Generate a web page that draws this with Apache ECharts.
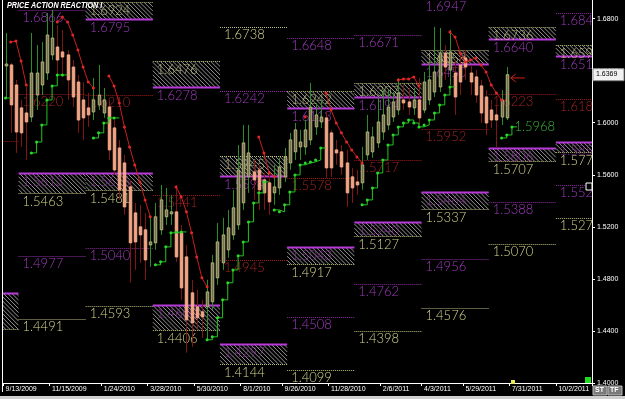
<!DOCTYPE html>
<html><head><meta charset="utf-8">
<script src="https://cdn.jsdelivr.net/npm/echarts@6/dist/echarts.min.js"></script>
<style>html,body{margin:0;padding:0;background:#000;}#c{width:625px;height:399px;}</style>
</head><body><div id="c"></div>
<script>
// ---------------- DATA ----------------
const startDate = [2009, 9, 13];
const weekCount = 114;
const tickLabels = ['9/13/2009','11/15/2009','1/24/2010','3/28/2010','5/30/2010','8/1/2010','9/26/2010','11/28/2010','2/6/2011','4/3/2011','5/29/2011','7/31/2011','10/2/2011'];
const yTicks = [1.40, 1.44, 1.48, 1.52, 1.56, 1.60, 1.64, 1.68];

const openP  = [1.6436,1.6444,1.6290,1.6114,1.6075,1.6044,1.6213,1.6290,1.6382,1.6521,1.6582,1.6544,1.6521,1.6428,1.6313,1.6175,1.6114,1.6083,1.6137,1.6075,
                1.6121,1.5960,1.5806,1.5691,1.5507,1.5307,1.5200,1.5177,1.5061,1.5077,1.5177,1.5277,1.5300,1.5315,1.5154,1.4969,1.4693,1.4585,1.4547,1.4585,
                1.4624,1.4808,1.4923,1.5023,1.5138,1.5215,1.5384,1.5584,1.5622,1.5637,1.5561,1.5538,1.5461,1.5499,1.5584,1.5691,1.5776,1.5814,1.5814,1.5868,
                1.5968,1.6006,1.6037,1.5922,1.5791,1.5776,1.5691,1.5584,1.5545,1.5538,1.5753,1.5776,1.5845,1.5929,1.5983,1.6044,1.6098,1.6175,1.6160,1.6114,
                1.6175,1.6098,1.6175,1.6236,1.6275,1.6536,1.6405,1.6382,1.6444,1.6498,1.6382,1.6352,1.6283,1.6198,1.6098,1.6060,1.6044,1.6037];
const closeP = [1.6451,1.6137,1.5929,1.5922,1.6006,1.6382,1.6382,1.6467,1.6674,1.6651,1.6482,1.6505,1.6329,1.6198,1.6021,1.6037,1.6060,1.6175,1.6213,1.6175,
                1.5791,1.5637,1.5484,1.5353,1.5077,1.5084,1.5138,1.4946,1.5084,1.5277,1.5407,1.5330,1.5315,1.4969,1.4731,1.4485,1.4462,1.4501,1.4508,1.4700,
                1.4923,1.5084,1.5138,1.5192,1.5346,1.5637,1.5845,1.5768,1.5561,1.5484,1.5461,1.5392,1.5507,1.5660,1.5737,1.5868,1.5945,1.5852,1.5945,1.6121,
                1.6060,1.6044,1.5653,1.5653,1.5768,1.5660,1.5461,1.5499,1.5522,1.5676,1.5929,1.5891,1.6006,1.6060,1.6121,1.6160,1.6229,1.6152,1.6121,1.6175,
                1.6037,1.6313,1.6329,1.6390,1.6536,1.6428,1.6544,1.6198,1.6313,1.6428,1.6313,1.6213,1.6075,1.5998,1.6021,1.6021,1.6175,1.6369];
const lowP   = [1.6198,1.5922,1.5768,1.5814,1.5714,1.6006,1.6098,1.6213,1.6329,1.6482,1.6367,1.6352,1.6175,1.6121,1.5922,1.5868,1.5968,1.6021,1.6098,1.6037,
                1.5714,1.5599,1.5407,1.5292,1.4770,1.4869,1.4923,1.4793,1.4892,1.5023,1.5138,1.5215,1.5215,1.4931,1.4639,1.4232,1.4278,1.4409,1.4347,1.4332,
                1.4562,1.4754,1.4869,1.4962,1.5100,1.5177,1.5330,1.5461,1.5407,1.5330,1.5330,1.5292,1.5369,1.5445,1.5545,1.5637,1.5714,1.5714,1.5753,1.5829,
                1.5906,1.5960,1.5576,1.5584,1.5676,1.5599,1.5353,1.5384,1.5445,1.5484,1.5714,1.5730,1.5806,1.5868,1.5945,1.6006,1.6060,1.6098,1.6060,1.6060,
                1.5983,1.6075,1.6137,1.6198,1.6236,1.6329,1.6290,1.6060,1.6213,1.6329,1.6213,1.6152,1.5998,1.5906,1.5960,1.5806,1.5983,1.6021];
const highP  = [1.6690,1.6459,1.6329,1.6175,1.6275,1.6690,1.6597,1.6620,1.6843,1.6866,1.6751,1.6713,1.6559,1.6482,1.6367,1.6313,1.6229,1.6344,1.6444,1.6267,
                1.6175,1.6021,1.5868,1.5753,1.5561,1.5384,1.5369,1.5307,1.5277,1.5384,1.5522,1.5499,1.5445,1.5522,1.5215,1.5061,1.4793,1.4716,1.4639,1.4793,
                1.4985,1.5231,1.5269,1.5330,1.5484,1.5829,1.5983,1.5983,1.5714,1.5676,1.5614,1.5599,1.5676,1.5730,1.5806,1.5922,1.5998,1.5945,1.6021,1.6306,
                1.6152,1.6175,1.6083,1.5945,1.5868,1.5829,1.5791,1.5653,1.5637,1.5814,1.6060,1.5968,1.6198,1.6252,1.6252,1.6236,1.6344,1.6290,1.6267,1.6267,
                1.6344,1.6390,1.6482,1.6736,1.6728,1.6597,1.6713,1.6482,1.6521,1.6559,1.6444,1.6405,1.6329,1.6252,1.6175,1.6137,1.6252,1.6428];

// stop (red) and trailing (green) segments: start week + values
const redStart  = [1, 10, 20, 33, 49, 58, 62, 76, 86, 89];
const redValues = [
  [1.6620,1.6628,1.6474,1.6290],
  [1.6774,1.6812,1.6774,1.6674,1.6559,1.6428,1.6313,1.6267],
  [1.6359,1.6283,1.6152,1.5968,1.5814,1.5676,1.5545,1.5407,1.5277],
  [1.5507,1.5430,1.5315,1.5154,1.4969,1.4808,1.4739],
  [1.5891,1.5768,1.5614,1.5584],
  [1.6044],
  [1.6229,1.6098,1.5998,1.5922,1.5852,1.5791,1.5737,1.5691],
  [1.6329,1.6336,1.6336,1.6352,1.6282],
  [1.6697,1.6659,1.6536],
  [1.6467,1.6482,1.6498,1.6444,1.6390,1.6290,1.6229,1.6175]
];
const greenStart  = [0, 5, 17, 29, 39, 52, 69, 96];
const greenValues = [
  [1.6190],
  [1.5768,1.5852,1.5983,1.6175,1.6283,1.6367,1.6367],
  [1.5883,1.5922,1.5998,1.6037,1.6037],
  [1.4908,1.4931,1.5046,1.5154,1.5161,1.5161],
  [1.4332,1.4355,1.4501,1.4639,1.4770,1.4869,1.4977,1.5084,1.5238,1.5384,1.5461,1.5545],
  [1.5330,1.5315,1.5369,1.5468,1.5599,1.5676,1.5691,1.5699,1.5714,1.5806],
  [1.5369,1.5407,1.5499,1.5614,1.5714,1.5829,1.5906,1.5968,1.5998,1.6021,1.5998,1.5968,1.5983,1.6021,1.6075,1.6137,1.6213,1.6275],
  [1.5883,1.5906,1.5968]
];

// quarterly levels (quarter index; a quarter = 13 weeks starting at week 3)
const lineQuarter = [-1, 0,0,0,0, 1,1,1, 2, 3,3,3, 4,4,4,4, 5,5,5,5, 6,6,6,6, 7,7,7, 8,8,8,8];
const lineValue   = [1.5860, 1.6866,1.6220,1.4977,1.4491, 1.6210,1.5040,1.4593, 1.5441, 1.6738,1.6242,1.4945,
                     1.6648,1.5578,1.4508,1.4099, 1.6671,1.5717,1.4762,1.4398, 1.6947,1.5952,1.4956,1.4576,
                     1.6223,1.5388,1.5070, 1.6840,1.6180,1.5525,1.5270];
const lineKind    = ['P', 'R','P','R','S', 'P','R','S', 'P', 'S','R','P', 'R','P','R','S', 'R','P','R','S', 'R','P','R','S', 'P','R','S', 'R','P','R','S'];

const zoneQuarter = [-1, 0, 1, 1, 2, 2, 3, 3, 4, 4, 5, 5, 6, 6, 7, 7, 8, 8];
const zoneKind    = ['S','S','R','S','R','S','R','S','R','S','R','S','R','S','R','S','R','S'];
const zoneEdge    = [1.4416,1.5463,1.6795,1.5481,1.6278,1.4406,1.5594,1.4144,1.6113,1.4917,1.6194,1.5127,1.6450,1.5337,1.6640,1.5707,1.6515,1.5776];
const zoneFar     = [1.4693,1.5613,1.6924,1.5616,1.6476,1.4600,1.5745,1.4297,1.6242,1.5043,1.6307,1.5240,1.6558,1.5464,1.6736,1.5806,1.6597,1.5852];

const lastClose = 1.6369;
const arrowWeek = 97, arrowValue = 1.6344;
const titleText = 'PRICE ACTION REACTION I';

// ---------------- BUILD ----------------
const QSTART = 3, QLEN = 13;
const cats = [];
const d0 = Date.UTC(startDate[0], startDate[1]-1, startDate[2]);
for (let i = 0; i < weekCount; i++) {
  const d = new Date(d0 + i*7*86400000);
  cats.push((d.getUTCMonth()+1) + '/' + d.getUTCDate() + '/' + d.getUTCFullYear());
}
const labelSet = new Set(tickLabels);
function segArray(starts, vals){
  const a = new Array(weekCount).fill(null);
  starts.forEach((s,k)=>vals[k].forEach((v,j)=>{ a[s+j] = v; }));
  return a;
}
const LFAMILY = 'Lato,"DejaVu Sans Condensed","DejaVu Sans",sans-serif';
const LFONT = '300 13px ' + LFAMILY;
const redData = segArray(redStart, redValues);
const greenData = segArray(greenStart, greenValues);
const gLast = greenStart[greenStart.length-1] + greenValues[greenValues.length-1].length - 1;
greenData[gLast] = {value: greenData[gLast], label:{show:true, position:'right', distance:1,
  formatter: p => p.value.toFixed(4), color:'#3cb43c', fontSize:13, fontWeight:300, fontFamily:LFAMILY}};

const candleData = openP.map((o,i)=>[i, o, closeP[i], lowP[i], highP[i]]);
const lineData = lineQuarter.map((q,k)=>[0, lineValue[k]]);
const zoneData = zoneQuarter.map((q,k)=>[0, zoneEdge[k], zoneFar[k]]);

const COL = {
  purple:'#a23cbe', purpleLine:'#8e2ea2', purpleSolid:'#b83ad8',
  yellow:'#d4d48c', yellowLine:'#bcbc7c',
  red:'#a42424', redLine:'#a01c1c', hatch:'#959595'
};
const kindText = {R:COL.purple, S:COL.yellow, P:COL.red};
const kindLine = {R:COL.purpleLine, S:COL.yellowLine, P:COL.redLine};

function qx(api, q, v){
  const bw = api.size([1,0])[0];
  const x0w = api.coord([0, v])[0] - bw/2;
  return [x0w + (QSTART + q*QLEN)*bw, x0w + (QSTART + (q+1)*QLEN)*bw];
}

function renderLine(params, api){
  const k = params.dataIndex;
  const v = api.value(1);
  const xs = qx(api, lineQuarter[k], v);
  const y = Math.round(api.coord([0, v])[1]) + 0.5;
  const kind = lineKind[k];
  return {type:'group', children:[
    {type:'line', shape:{x1:xs[0], y1:y, x2:xs[1], y2:y}, style:{stroke:kindLine[kind], lineWidth:1, lineDash:[1,1]}},
    {type:'text', style:{text:v.toFixed(4), x:xs[0]+4, y:y+1, fill:kindText[kind], font:LFONT, align:'left', verticalAlign:'top'}}
  ]};
}

function renderZone(params, api){
  const k = params.dataIndex;
  const edge = api.value(1), far = api.value(2);
  const xs = qx(api, zoneQuarter[k], edge);
  const yE = Math.round(api.coord([0, edge])[1]) + 0.5;
  const yF = Math.round(api.coord([0, far])[1]) + 0.5;
  const top = Math.min(yE, yF), bot = Math.max(yE, yF);
  const w = xs[1]-xs[0], h = bot-top;
  const ch = [];
  const step = 4.2;
  for (let c = -h; c < w; c += step) {
    const t0 = Math.max(0, -c), t1 = Math.min(h, w - c);
    if (t1 > t0) ch.push({type:'line', shape:{x1:xs[0]+c+t0, y1:top+t0, x2:xs[0]+c+t1, y2:top+t1}, style:{stroke:COL.hatch, lineWidth:1}});
  }
  const isR = zoneKind[k] === 'R';
  const ySolid = isR ? bot : top, yDot = isR ? top : bot;
  ch.push({type:'line', shape:{x1:xs[0], y1:yDot, x2:xs[1], y2:yDot}, style:{stroke:COL.yellowLine, lineWidth:1, lineDash:[1,1]}});
  ch.push({type:'line', shape:{x1:xs[0], y1:ySolid, x2:xs[1], y2:ySolid}, style:{stroke:COL.purpleSolid, lineWidth:2}});
  ch.push({type:'text', style:{text:far.toFixed(4), x:xs[0]+4, y:top+1.5, fill: isR ? 'rgba(212,212,140,0.8)' : 'rgba(150,50,170,0.85)', font:LFONT, align:'left', verticalAlign:'top'}});
  ch.push({type:'text', style:{text:edge.toFixed(4), x:xs[0]+4, y:bot+1.5, fill: isR ? COL.purple : COL.yellow, font:LFONT, align:'left', verticalAlign:'top'}});
  return {type:'group', children:ch};
}

function renderCandle(params, api){
  const i = api.value(0), o = api.value(1), c = api.value(2), l = api.value(3), h = api.value(4);
  const po = api.coord([i,o]), pc = api.coord([i,c]), pl = api.coord([i,l]), ph = api.coord([i,h]);
  const x = Math.round(po[0]) + 0.5;
  const up = c >= o;
  const top = Math.min(po[1], pc[1]), bot = Math.max(po[1], pc[1]);
  return {type:'group', children:[
    {type:'line', shape:{x1:x, y1:ph[1], x2:x, y2:pl[1]}, style:{stroke: up ? '#2e8c28' : '#7e1616', lineWidth:1}},
    {type:'rect', shape:{x:x-1.25, y:top, width:2.5, height:Math.max(1.5, bot-top)},
     style:{fill: up ? '#72724c' : '#f4a282', stroke: up ? '#b2b27e' : '#f6ac8c', lineWidth:1}}
  ]};
}

const chart = echarts.init(document.getElementById('c'), null, {renderer:'canvas', width:625, height:399});
const option = {
  backgroundColor:'#000',
  animation:false,
  grid:{left:3, right:33, top:0, bottom:16, outerBoundsMode:'none', containLabel:false},
  xAxis:{
    type:'category', data:cats, boundaryGap:true,
    axisLine:{show:true, lineStyle:{color:'#ffffff', width:1}},
    axisTick:{show:true, length:3, interval:(i,v)=>labelSet.has(v), lineStyle:{color:'#ffffff'}},
    axisLabel:{interval:(i,v)=>labelSet.has(v), color:'#ffffff', fontSize:7, fontFamily:'"Liberation Sans",Arial,sans-serif', align:'left', margin:3},
    splitLine:{show:false}
  },
  yAxis:{
    type:'value', position:'right', min:yTicks[0], max:1.6943, interval:0.04,
    axisLine:{show:true, lineStyle:{color:'#ffffff'}},
    axisTick:{show:true, length:3, lineStyle:{color:'#ffffff'}},
    axisLabel:{color:'#ffffff', fontSize:7, fontFamily:'"Liberation Sans",Arial,sans-serif', margin:5, showMaxLabel:false,
      formatter: v => yTicks.some(t=>Math.abs(t-v)<1e-6) ? v.toFixed(4) : ''},
    splitLine:{show:false}
  },
  series:[
    {type:'custom', name:'zones', renderItem:renderZone, data:zoneData, encode:{x:0, y:[1,2]}, clip:true, z:1, silent:true},
    {type:'custom', name:'levels', renderItem:renderLine, data:lineData, encode:{x:0, y:1}, clip:true, z:2, silent:true},
    {type:'custom', name:'candles', renderItem:renderCandle, data:candleData, encode:{x:0, y:[1,2,3,4]}, clip:true, z:3, silent:true},
    {type:'line', name:'stop', data:redData, connectNulls:false, symbol:'circle', symbolSize:3, showAllSymbol:true,
     lineStyle:{color:'#c81e1e', width:1}, itemStyle:{color:'#e02828'}, z:4, silent:true},
    {type:'line', name:'trail', data:greenData, step:'end', connectNulls:false, symbol:'circle', symbolSize:3, showAllSymbol:true,
     lineStyle:{color:'#22c422', width:1}, itemStyle:{color:'#2ad82a'}, z:5, silent:true}
  ]
};
chart.setOption(option);

const py = chart.convertToPixel({yAxisIndex:0}, lastClose);
const ap = chart.convertToPixel({gridIndex:0}, [arrowWeek, arrowValue]);
chart.setOption({graphic:[
  {type:'line', shape:{x1:2.5, y1:0, x2:2.5, y2:392}, style:{stroke:'#ffffff', lineWidth:1}, z:100},
  {type:'text', x:7, y:1, scaleX:0.8, style:{text:titleText, fill:'#ffffff', font:'italic bold 9px "Liberation Sans",Arial,sans-serif'}, z:100},
  {type:'rect', shape:{x:0, y:396, width:625, height:3}, style:{fill:'#cfcfcf'}, z:100},
  {type:'rect', shape:{x:593, y:py-6, width:31, height:12}, style:{fill:'#f2f2f2', stroke:'#8a8a8a', lineWidth:1}, z:100},
  {type:'text', x:596, y:py-4, style:{text:lastClose.toFixed(4), fill:'#000', font:'7px "Liberation Sans",Arial,sans-serif'}, z:101},
  {type:'line', shape:{x1:ap[0]+4, y1:ap[1], x2:ap[0]+18, y2:ap[1]}, style:{stroke:'#d02020', lineWidth:1}, z:100},
  {type:'polyline', shape:{points:[[ap[0]+9, ap[1]-4],[ap[0]+4, ap[1]],[ap[0]+9, ap[1]+4]]}, style:{stroke:'#d02020', lineWidth:1, fill:null}, z:100},
  {type:'rect', shape:{x:585, y:377, width:6, height:6}, style:{fill:'#22d822'}, z:100},
  {type:'rect', shape:{x:511, y:380, width:4, height:4}, style:{fill:'#e8e850'}, z:100},
  {type:'rect', shape:{x:586, y:183, width:6, height:7}, style:{fill:'#000', stroke:'#ffffff', lineWidth:1}, z:100},
  {type:'rect', shape:{x:593, y:386, width:14, height:9}, style:{fill:'#7a7a7a', stroke:'#bbbbbb', lineWidth:1}, z:100},
  {type:'text', x:595, y:387, style:{text:'ST', fill:'#ffffff', font:'bold 7px "Liberation Sans",Arial,sans-serif'}, z:101},
  {type:'rect', shape:{x:608, y:386, width:14, height:9}, style:{fill:'#7a7a7a', stroke:'#bbbbbb', lineWidth:1}, z:100},
  {type:'text', x:610, y:387, style:{text:'TF', fill:'#ffffff', font:'bold 7px "Liberation Sans",Arial,sans-serif'}, z:101}
]});
</script></body></html>
